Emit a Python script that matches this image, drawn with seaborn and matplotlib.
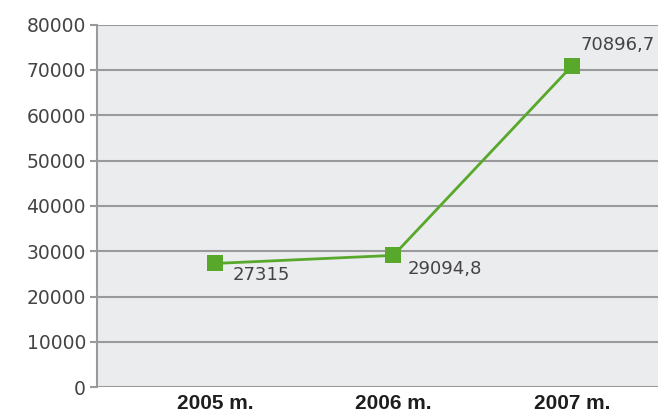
import matplotlib
matplotlib.use("Agg")
import matplotlib.pyplot as plt
import seaborn as sns
import pandas as pd

# ── Dados ──────────────────────────────────────────────────────────────────────
metai = ["2005 m.", "2006 m.", "2007 m."]
reiksmes = [27315, 29094.8, 70896.7]
etiketes = ["27315", "29094,8", "70896,7"]
y_ticks = [0, 10000, 20000, 30000, 40000, 50000, 60000, 70000, 80000]

ZALIA = "#58A82B"
PILKA = "#9A9A9C"

sns.set_theme(style="white")
plt.rcParams["font.family"] = ["DejaVu Sans"]

df = pd.DataFrame({"metai": metai, "reiksme": reiksmes})

fig = plt.figure(figsize=(6.58, 4.19), dpi=100)
fig.patch.set_facecolor("white")
ax = fig.add_axes([0.1474, 0.0757, 0.8526, 0.8656])
ax.set_facecolor("#EBECEE")

sns.lineplot(data=df, x="metai", y="reiksme", ax=ax, color=ZALIA,
             linewidth=2, marker="s", markersize=11.5, markeredgewidth=0,
             sort=False, zorder=3)

# duomenų žymės
offsets = [(13, -8), (10, -9.5), (6.5, 15)]
for i, (v, txt) in enumerate(zip(reiksmes, etiketes)):
    ax.annotate(txt, (i, v), xytext=offsets[i], textcoords="offset points",
                ha="left", va="center", fontsize=13, color="#444444")

ax.set_ylim(0, 80000)
ax.set_xlim(-0.661, 2.482)
ax.set_yticks(y_ticks)
ax.set_yticklabels([str(t) for t in y_ticks], fontsize=13.5, color="#444444")
ax.set_xticks(range(len(metai)))
ax.set_xticklabels(metai, fontsize=15, fontweight="bold", color="#1E1E1E",
                   family="Liberation Sans")
ax.set_xlabel("")
ax.set_ylabel("")

ax.yaxis.grid(True, color=PILKA, linewidth=1.5)
ax.set_axisbelow(True)
for s in ["top", "right", "bottom"]:
    ax.spines[s].set_visible(False)
ax.spines["left"].set_color(PILKA)
ax.spines["left"].set_linewidth(1.5)
ax.tick_params(axis="y", direction="out", length=5, width=1.5, color=PILKA, pad=3, left=True)
ax.tick_params(axis="x", length=0, pad=5)

fig.savefig("out.png", dpi=100)
